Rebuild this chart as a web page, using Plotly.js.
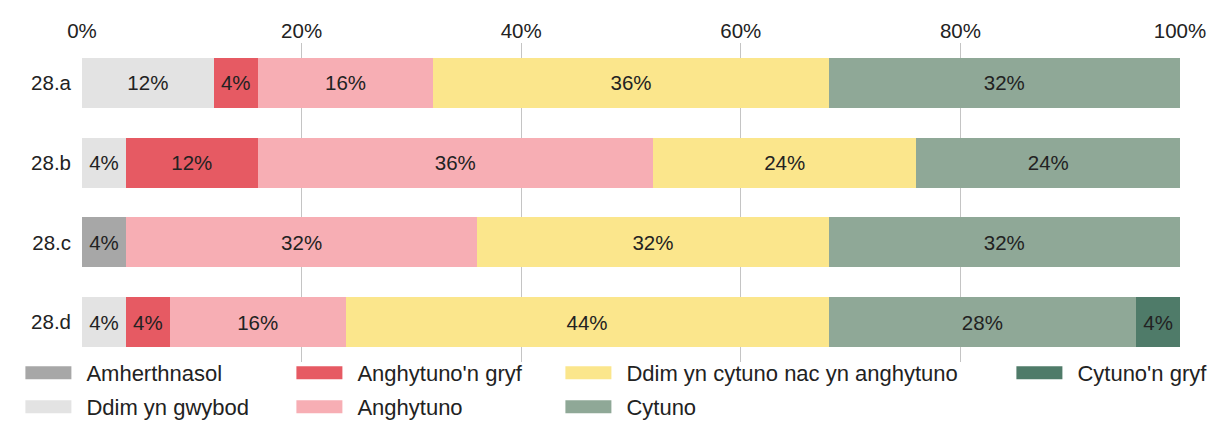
<!DOCTYPE html>
<html>
<head>
<meta charset="utf-8">
<script src="https://cdn.plot.ly/plotly-3.0.1.min.js"></script>
<style>
html,body{margin:0;padding:0;background:#fff;}
#chart{width:1221px;height:426px;}
</style>
</head>
<body>
<div id="chart"></div>
<script>
var categories = ["28.a", "28.b", "28.c", "28.d"];
var seriesNames = ["Amherthnasol", "Ddim yn gwybod", "Anghytuno'n gryf", "Anghytuno",
                   "Ddim yn cytuno nac yn anghytuno", "Cytuno", "Cytuno'n gryf"];
var amherthnasol   = [null, null, 4, null];
var ddimYnGwybod   = [12, 4, null, 4];
var anghytunoGryf  = [4, 12, null, 4];
var anghytuno      = [16, 36, 32, 16];
var ddimCytunoNac  = [36, 24, 32, 44];
var cytuno         = [32, 24, 32, 28];
var cytunoGryf     = [null, null, null, 4];
var tickVals = [0, 20, 40, 60, 80, 100];
var tickText = ["0%", "20%", "40%", "60%", "80%", "100%"];

var seriesValues = [amherthnasol, ddimYnGwybod, anghytunoGryf, anghytuno, ddimCytunoNac, cytuno, cytunoGryf];
var colors = ["#a7a7a7", "#e3e3e3", "#e65a63", "#f7aeb4", "#fbe68c", "#8fa897", "#4f7b69"];
var legendIds = ["legend", "legend2", "legend3", "legend4", "legend5", "legend6", "legend7"];
// legend placement: [swatch left px, row]
var legendPos = [[25, 0], [25, 1], [296, 0], [296, 1], [565, 0], [565, 1], [1016, 0]];

var FONT = "Liberation Sans, Arial, sans-serif";
var traces = seriesNames.map(function (name, i) {
  return {
    type: "bar",
    orientation: "h",
    name: name,
    y: categories,
    x: seriesValues[i],
    marker: {color: colors[i], line: {width: 0}},
    texttemplate: "%{x}%",
    textposition: "inside",
    insidetextanchor: "middle",
    constraintext: "none",
    textfont: {family: FONT, size: 20.5, color: "#222"},
    hoverinfo: "name+x",
    legend: legendIds[i]
  };
});

var PLOT_L = 82, PLOT_W = 1098, PLOT_T = 43, PLOT_H = 319;
function leg(pos) {
  return {
    orientation: "v",
    yanchor: "top",
    xanchor: "left",
    x: (pos[0] - 14.6 - PLOT_L) / PLOT_W,
    y: (10 - pos[1] * 34) / PLOT_H,
    font: {family: FONT, size: 22, color: "#222"},
    bgcolor: "rgba(0,0,0,0)",
    itemwidth: 66,
    traceorder: "normal",
    itemclick: false,
    itemdoubleclick: false
  };
}

var layout = {
  width: 1221,
  height: 426,
  margin: {l: 82, r: 41, t: 43, b: 64, autoexpand: false},
  paper_bgcolor: "#fff",
  plot_bgcolor: "#fff",
  barmode: "stack",
  bargap: 0.375,
  font: {family: FONT, size: 19, color: "#222"},
  xaxis: {
    side: "top",
    range: [0, 100],
    tickvals: tickVals,
    ticktext: tickText,
    showgrid: true,
    gridcolor: "#c4c4c4",
    gridwidth: 1,
    zeroline: false,
    showline: false,
    ticks: "",
    fixedrange: true,
    automargin: false,
    tickfont: {family: FONT, size: 20.5, color: "#222"}
  },
  yaxis: {
    autorange: "reversed",
    type: "category",
    showgrid: false,
    zeroline: false,
    showline: false,
    ticks: "",
    ticklabelstandoff: 10,
    fixedrange: true,
    automargin: false,
    tickfont: {family: FONT, size: 20.5, color: "#222"}
  },
  showlegend: true
};
legendIds.forEach(function (id, i) { layout[id] = leg(legendPos[i]); });

function patchSwatches() {
  var paths = document.querySelectorAll("#chart .legendpoints path");
  paths.forEach(function (p) { p.setAttribute("d", "M23,6.5H-23V-6.5H23Z"); });
}

var gd = document.getElementById("chart");
Plotly.newPlot(gd, traces, layout, {displayModeBar: false, staticPlot: true}).then(function () {
  patchSwatches();
  gd.on && gd.on("plotly_afterplot", patchSwatches);
});
</script>
</body>
</html>
